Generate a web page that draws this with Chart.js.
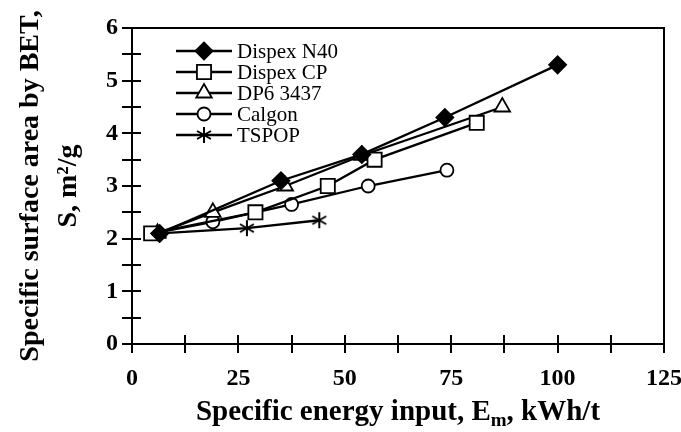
<!DOCTYPE html>
<html>
<head>
<meta charset="utf-8">
<script src="https://cdn.jsdelivr.net/npm/chart.js@4.4.0/dist/chart.umd.min.js"></script>
<style>
  html, body { margin: 0; padding: 0; background: #fff; }
  canvas { display: block; }
</style>
</head>
<body>
<canvas id="chart" width="681" height="432"></canvas>
<script>
// energy input (kWh/t) and BET surface area (m2/g) per dispersant
const seriesNames = ['Dispex N40', 'Dispex CP', 'DP6 3437', 'Calgon', 'TSPOP'];
const n40X = [6.5, 35, 54, 73.5, 100];
const n40Y = [2.1, 3.1, 3.6, 4.3, 5.3];
const cpX = [4.5, 29, 46, 57, 81];
const cpY = [2.1, 2.5, 3.0, 3.5, 4.2];
const dp6X = [6, 19, 36, 54, 87];
const dp6Y = [2.1, 2.5, 3.0, 3.58, 4.5];
const calgonX = [5, 19, 37.5, 55.5, 74];
const calgonY = [2.1, 2.32, 2.65, 3.0, 3.3];
const tspopX = [6.5, 27, 44];
const tspopY = [2.1, 2.2, 2.35];

const xTickLabels = [0, 25, 50, 75, 100, 125];
const yTickLabels = [0, 1, 2, 3, 4, 5, 6];

const SERIF = '"Liberation Serif", "Times New Roman", serif';

function pairs(xs, ys) {
  return xs.map((x, i) => ({ x: x, y: ys[i] }));
}

// six-armed asterisk used for TSPOP
function makeAsterisk(size) {
  const c = document.createElement('canvas');
  c.width = size;
  c.height = size;
  const g = c.getContext('2d');
  g.strokeStyle = '#000';
  g.lineWidth = 2;
  const m = size / 2, r = size / 2 - 1;
  g.beginPath();
  for (let k = 0; k < 3; k++) {
    const a = Math.PI / 2 + k * Math.PI / 3;
    g.moveTo(m + r * Math.cos(a), m + r * Math.sin(a));
    g.lineTo(m - r * Math.cos(a), m - r * Math.sin(a));
  }
  g.stroke();
  return c;
}
const asterisk = makeAsterisk(18);

const markers = [
  { style: 'rectRot', radius: 8.5, fill: '#000' },
  { style: 'rect', radius: 10, fill: '#fff' },
  { style: 'triangle', radius: 9, fill: '#fff' },
  { style: 'circle', radius: 6.5, fill: '#fff' },
  { style: asterisk, radius: 9, fill: '#fff' },
];

const seriesData = [
  pairs(n40X, n40Y),
  pairs(cpX, cpY),
  pairs(dp6X, dp6Y),
  pairs(calgonX, calgonY),
  pairs(tspopX, tspopY),
];

const datasets = seriesData.map((d, i) => ({
  label: seriesNames[i],
  data: d,
  showLine: true,
  borderColor: '#000',
  borderWidth: 2.3,
  pointStyle: markers[i].style,
  pointRadius: markers[i].radius,
  pointHoverRadius: markers[i].radius,
  pointBackgroundColor: markers[i].fill,
  pointBorderColor: '#000',
  pointBorderWidth: 1.8,
}));

// box around the plot plus ticks that cross the axis lines
const frame = {
  id: 'frame',
  afterDatasetsDraw(chart) {
    const { ctx, chartArea: a } = chart;
    ctx.save();
    ctx.strokeStyle = '#000';
    ctx.lineWidth = 2;
    ctx.strokeRect(a.left, a.top, a.right - a.left, a.bottom - a.top);
    ctx.beginPath();
    const xs = chart.scales.x;
    xs.ticks.forEach((t, i) => {
      const px = Math.round(xs.getPixelForTick(i));
      ctx.moveTo(px, a.bottom - 9);
      ctx.lineTo(px, a.bottom + 9);
    });
    const ys = chart.scales.y;
    ys.ticks.forEach((t, i) => {
      const py = Math.round(ys.getPixelForTick(i));
      ctx.moveTo(a.left - 10, py);
      ctx.lineTo(a.left + 9, py);
    });
    ctx.stroke();
    ctx.restore();
  },
};

// legend with a line running through each marker
const lineLegend = {
  id: 'lineLegend',
  afterDraw(chart) {
    const ctx = chart.ctx;
    const x0 = 176, x1 = 232, rowTop = 51, rowGap = 21;
    ctx.save();
    chart.data.datasets.forEach((ds, i) => {
      const y = rowTop + i * rowGap;
      ctx.strokeStyle = '#000';
      ctx.lineWidth = 2.3;
      ctx.beginPath();
      ctx.moveTo(x0, y);
      ctx.lineTo(x1, y);
      ctx.stroke();
      ctx.fillStyle = ds.pointBackgroundColor;
      ctx.lineWidth = ds.pointBorderWidth;
      Chart.helpers.drawPoint(ctx, {
        pointStyle: ds.pointStyle,
        radius: ds.pointRadius,
        rotation: 0,
        borderWidth: ds.pointBorderWidth,
      }, (x0 + x1) / 2, y);
      ctx.fillStyle = '#000';
      ctx.font = '21px ' + SERIF;
      ctx.textBaseline = 'middle';
      ctx.textAlign = 'left';
      ctx.fillText(ds.label, x1 + 5, y + 1);
    });
    ctx.restore();
  },
};

// axis titles: subscript m on the x title, two rotated lines on the y title
const axisTitles = {
  id: 'axisTitles',
  afterDraw(chart) {
    const ctx = chart.ctx;
    const a = chart.chartArea;
    ctx.save();
    ctx.fillStyle = '#000';
    ctx.textBaseline = 'alphabetic';
    ctx.textAlign = 'left';

    const big = 'bold 29px ' + SERIF;
    const small = 'bold 19px ' + SERIF;
    const parts = [
      { t: 'Specific energy input, E', f: big, dy: 0 },
      { t: 'm', f: small, dy: 6 },
      { t: ', kWh/t', f: big, dy: 0 },
    ];
    let w = 0;
    parts.forEach(p => { ctx.font = p.f; p.w = ctx.measureText(p.t).width; w += p.w; });
    let x = (a.left + a.right) / 2 - w / 2;
    const base = 420;
    parts.forEach(p => {
      ctx.font = p.f;
      ctx.fillText(p.t, x, base + p.dy);
      x += p.w;
    });

    ctx.translate(0, (a.top + a.bottom) / 2);
    ctx.rotate(-Math.PI / 2);
    ctx.textAlign = 'center';
    ctx.font = 'bold 28px ' + SERIF;
    ctx.fillText('Specific surface area by BET,', 0, 38);
    ctx.fillText('S, m²/g', 0, 76);
    ctx.restore();
  },
};

new Chart(document.getElementById('chart'), {
  type: 'line',
  data: { datasets: datasets },
  options: {
    responsive: false,
    animation: false,
    devicePixelRatio: 1,
    layout: { padding: { top: 28, right: 17, left: 0, bottom: 0 } },
    scales: {
      x: {
        type: 'linear',
        min: 0,
        max: 125,
        grid: { display: false, drawTicks: false },
        border: { display: false },
        ticks: {
          stepSize: 12.5,
          autoSkip: false,
          maxRotation: 0,
          padding: 20,
          color: '#000',
          font: { family: SERIF, size: 24, weight: 'bold' },
          callback: v => (xTickLabels.includes(v) ? String(v) : ''),
        },
        afterFit: s => {
          s.height = 88;
          s.paddingLeft = 0;
          s.paddingRight = 0;
        },
      },
      y: {
        type: 'linear',
        min: 0,
        max: 6,
        grid: { display: false, drawTicks: false },
        border: { display: false },
        ticks: {
          stepSize: 0.5,
          autoSkip: false,
          padding: 14,
          color: '#000',
          font: { family: SERIF, size: 24, weight: 'bold' },
          callback: v => (yTickLabels.includes(v) ? String(v) : ''),
        },
        afterFit: s => {
          s.width = 132;
          s.paddingTop = 0;
          s.paddingBottom = 0;
        },
      },
    },
    plugins: {
      legend: { display: false },
      tooltip: { enabled: false },
    },
  },
  plugins: [frame, lineLegend, axisTitles],
});
</script>
</body>
</html>
